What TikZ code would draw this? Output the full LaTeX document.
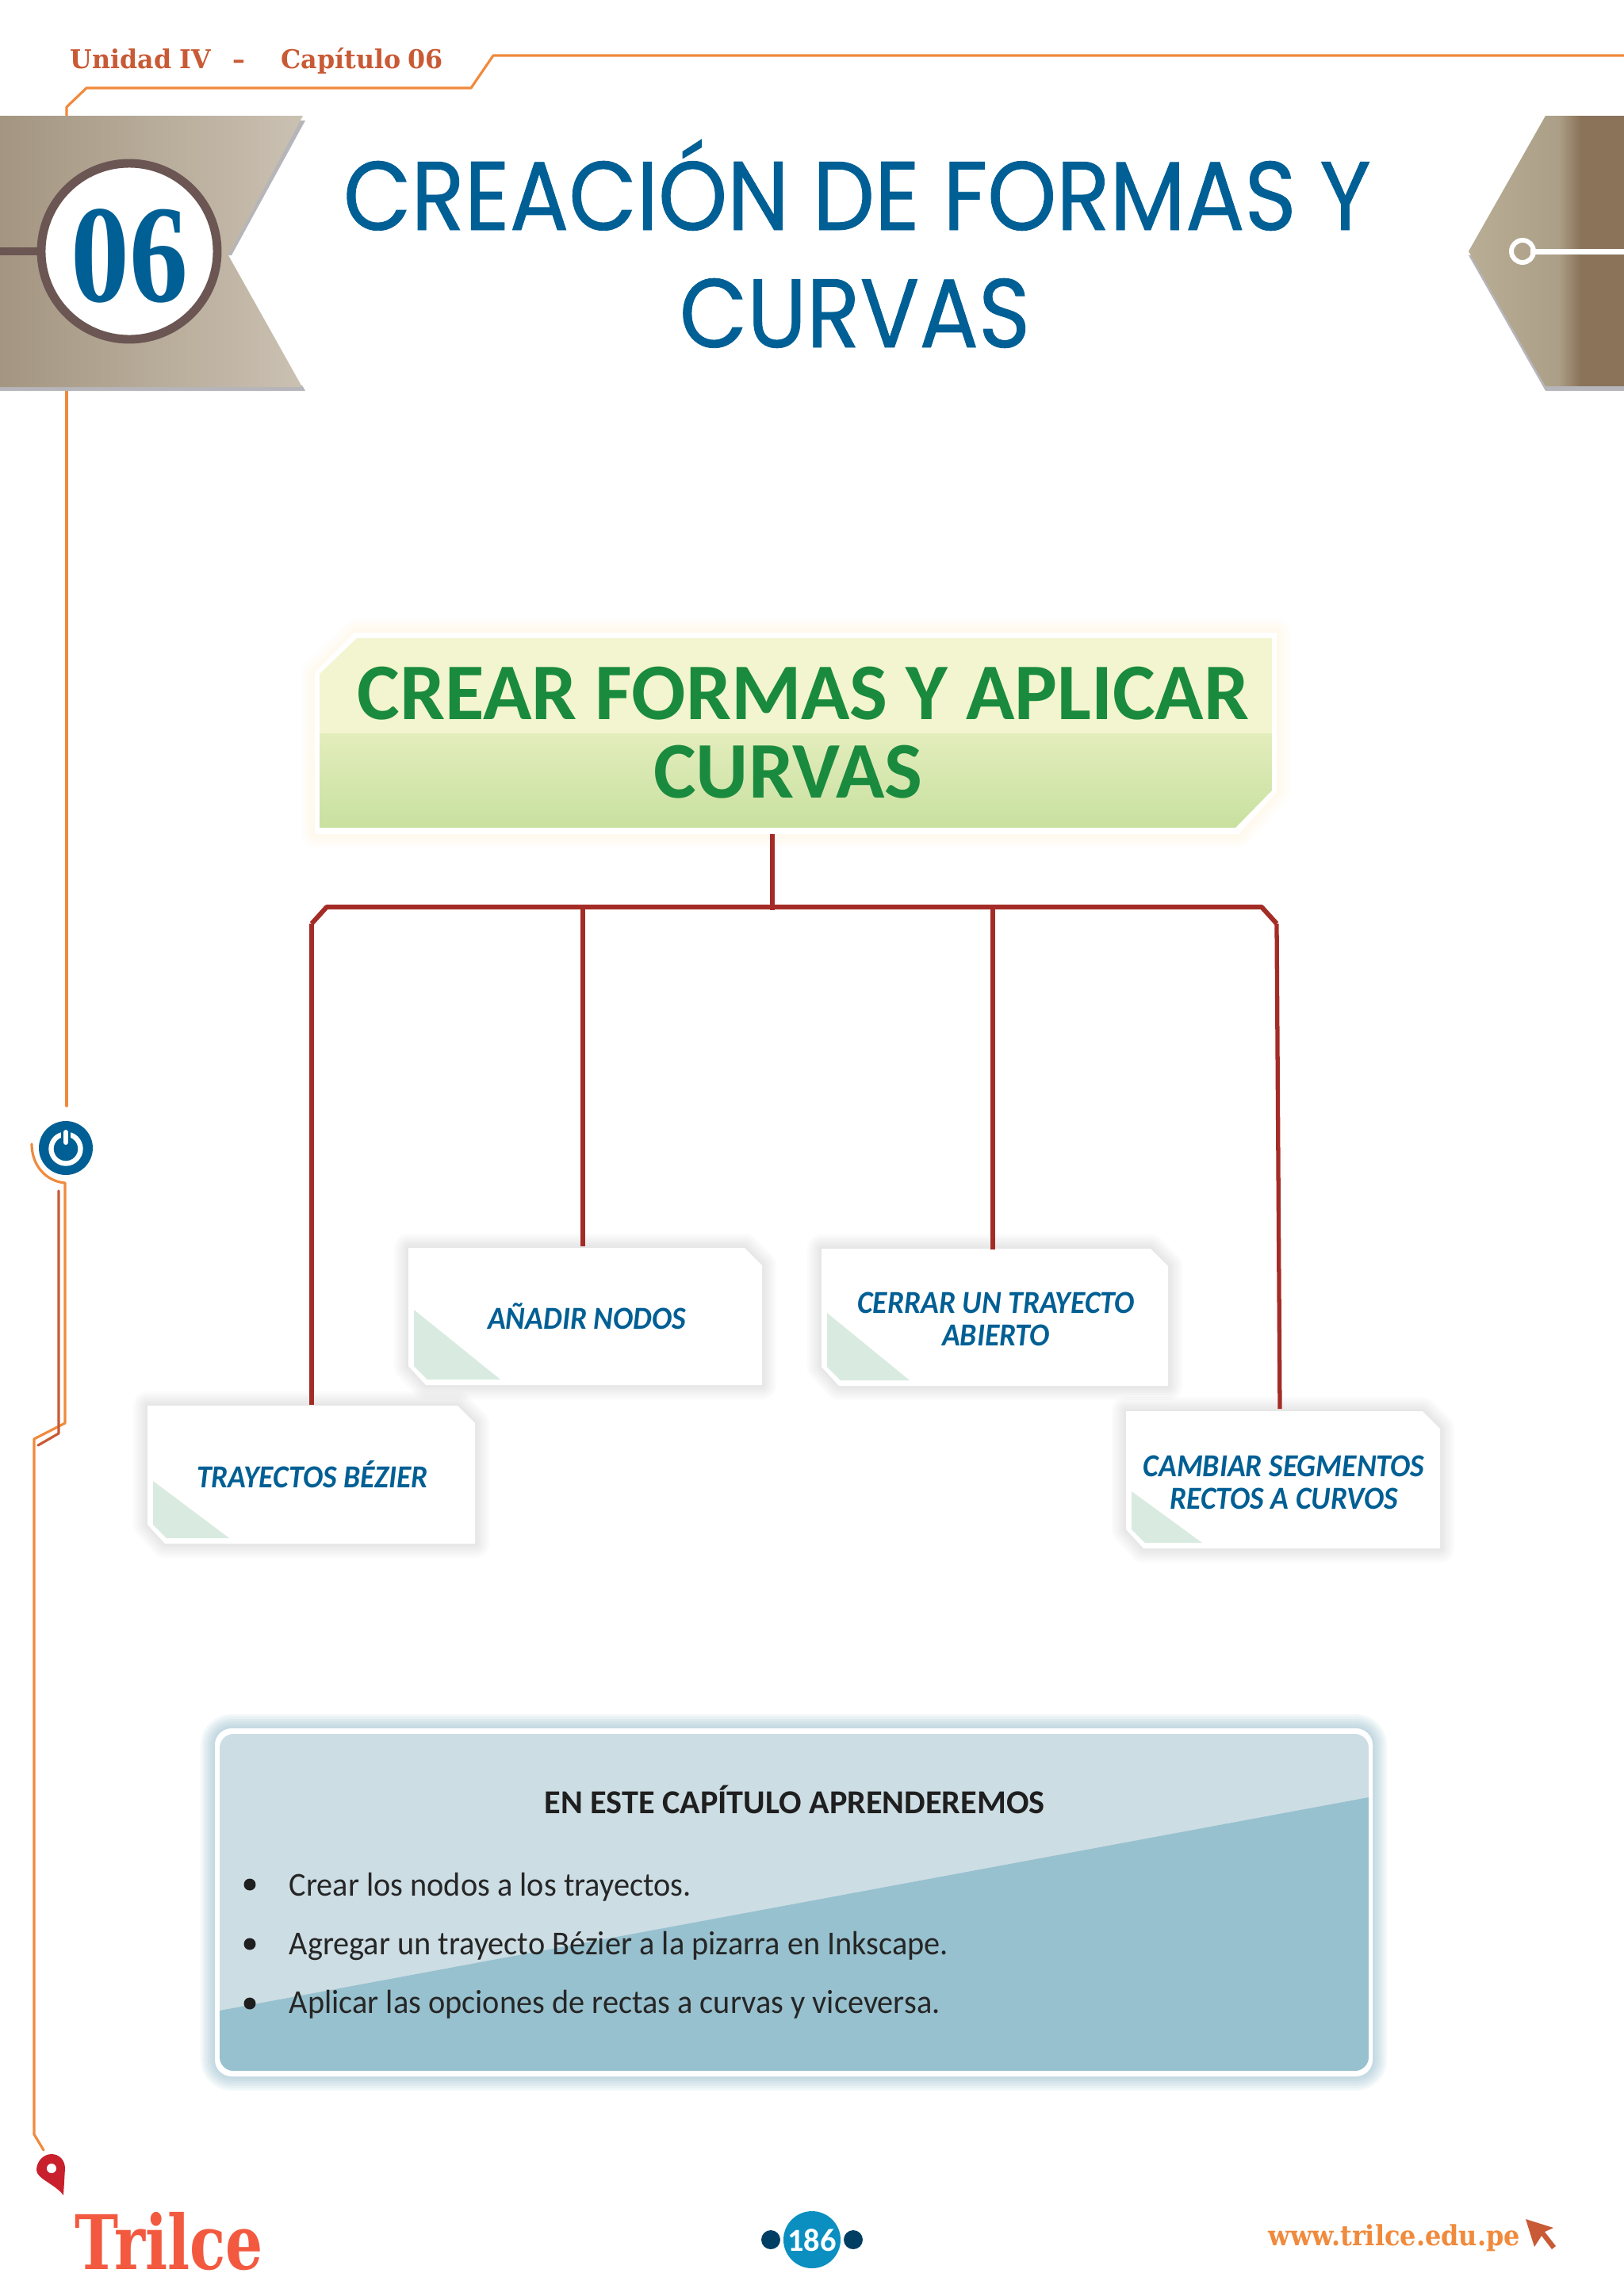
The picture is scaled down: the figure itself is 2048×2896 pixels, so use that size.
\documentclass[tikz,border=0pt]{standalone}
\usepackage{fontspec}
\usetikzlibrary{calc}
\setmainfont{Carlito}
\newfontfamily\titlefont[FakeStretch=0.9,FakeBold=0.7]{Poppins}
\newfontfamily\slabfont[FakeStretch=0.97]{DejaVu Serif}
\newfontfamily\webfont[FakeStretch=0.91]{DejaVu Serif}
\newfontfamily\logofont[FakeStretch=0.78]{DejaVu Serif}
\newfontfamily\numfont[FakeStretch=0.84]{Liberation Serif}
\newfontfamily\cardfont[FakeStretch=0.93]{Carlito}
\newfontfamily\bodyfont[FakeStretch=0.955]{Carlito}
\definecolor{linea}{HTML}{F08A3C}
\definecolor{lineados}{HTML}{C85A35}
\definecolor{azul}{HTML}{005F94}
\definecolor{rojo}{HTML}{A42C27}
\definecolor{verde}{HTML}{1A8A3E}
\definecolor{marron}{HTML}{6B5654}
\definecolor{cintaa}{HTML}{B8AD95}
\definecolor{cintab}{HTML}{AC9F87}
\definecolor{cintac}{HTML}{8A7359}
\definecolor{cintaizq}{HTML}{A39580}
\definecolor{cintafin}{HTML}{CBC1B2}
\definecolor{sombra}{HTML}{B5B5BA}
\definecolor{temaalto}{HTML}{F2F5CF}
\definecolor{temamed}{HTML}{E3EDBC}
\definecolor{temabajo}{HTML}{C8E0A0}
\definecolor{hoja}{HTML}{D9EBE0}
\definecolor{panelclaro}{HTML}{CDDDE4}
\definecolor{paneloscuro}{HTML}{97C1CF}
\definecolor{panelglow}{HTML}{5A97AE}
\definecolor{logorojo}{HTML}{F2593F}
\definecolor{pinrojo}{HTML}{C8202C}
\definecolor{pagazul}{HTML}{0A8FC0}
\definecolor{pagdot}{HTML}{003F63}
\pgfdeclarehorizontalshading{cintader}{100bp}{color(0bp)=(cintaa); color(25bp)=(cintaa); color(54bp)=(cintab); color(61bp)=(cintac); color(100bp)=(cintac)}
\def\softglow#1#2#3{\foreach \g in {6,12,18,24,30,36}{\draw[#1,opacity=#2,line width=\g*0.1mm,line join=round] #3;}}
\def\notecard(#1,#2,#3,#4)(#5,#6){
	\softglow{black}{0.014}{(#1,#2) -- ({#3-22},#2) -- (#3,{#2+22}) -- (#3,#4) -- ({#1+22},#4) -- (#1,{#4-24}) -- cycle}
	\fill[white] (#1,#2) -- ({#3-22},#2) -- (#3,{#2+22}) -- (#3,#4) -- ({#1+22},#4) -- (#1,{#4-24}) -- cycle;
	\fill[hoja] ({#1+7},{#2+#5}) -- ({#1+7},{#4-24}) -- ({#1+24},{#4-7}) -- ({#1+#6},{#4-7}) -- cycle;
}
\tikzset{
	titulo/.style={anchor=base,inner sep=0pt,text=azul,font=\titlefont\fontsize{35}{42}\selectfont},
	cabecera/.style={anchor=base west,inner sep=0pt,text=lineados,font=\slabfont\bfseries\fontsize{9.3}{11}\selectfont},
	tarjeta/.style={text=azul,minimum width=3.9cm,minimum height=1.74cm,align=center,font=\cardfont\bfseries\itshape\fontsize{11.5}{11.66}\selectfont},
	enlace/.style={draw=rojo,line width=1.5pt,line join=round},
	trazo/.style={draw=linea,line width=0.9pt,line cap=round,line join=round},
	trazodos/.style={draw=lineados,line width=0.9pt,line cap=round,line join=round},
	lista/.style={anchor=base west,inner sep=0pt,text=black!85,font=\bodyfont\fontsize{12}{14}\selectfont},
	tema/.style={anchor=base,inner sep=0pt,text=verde,font=\bfseries\fontsize{28.8}{29}\selectfont},
}
\begin{document}
\begin{tikzpicture}[x=0.01cm,y=-0.01cm]
			%%%%% START %%%%%
			\useasboundingbox (0,0) rectangle (2048,2896);
			
			\draw[trazo] (84,146) -- (84,135) -- (109,111) -- (594,111) -- (622,70) -- (2048,70);
			\draw[trazo] (84,493) -- (84,1395);
			\draw[trazo] (40,1443) .. controls (40,1470) and (58,1490) .. (82,1492) -- (82,1795) -- (43,1815) -- (43,2692) -- (55,2712);
			\draw[trazodos] (74,1502) -- (74,1808) -- (48,1823);
			
			\fill[sombra] (378,152) -- (385,152) -- (292,322) -- (286,322) -- cycle;
			\fill[sombra] (0,486) -- (381,486) -- (385,493) -- (0,493) -- cycle;
			\shade[left color=cintaizq,right color=cintafin] (0,146) -- (382,146) -- (288,322) -- (381,488) -- (0,488) -- cycle;
			\fill[marron] (0,312) rectangle (60,322);
			\draw[draw=marron,fill=white,line width=3.1pt] (163,317) circle (111);
			\node[anchor=base,inner sep=0pt,text=azul,font=\numfont\bfseries\fontsize{50}{50}\selectfont] (numero) at (163,380) {06};
			
			\fill[sombra] (1852,322) -- (1949,493) -- (2048,493) -- (2048,322) -- cycle;
			\shade[shading=cintader] (1949,146) -- (2048,146) -- (2048,487) -- (1949,487) -- (1852,317) -- cycle;
			\fill[white] (1930,313.5) rectangle (2048,320.5);
			\draw[white,line width=1.7pt] (1920,317) circle (14);
			
			\node[cabecera] (unidad) at (88,86) {Unidad\hspace{2.8pt}IV};
			\node[cabecera] (raya) at (293,86) {–};
			\node[cabecera] (capitulo) at (354,86) {Capítulo\hspace{2.4pt}06};
			\node[titulo] (titulouno) at (1081,290) {CREACIÓN DE FORMAS Y};
			\node[titulo] (titulodos) at (1078,438) {CURVAS};
			
			\softglow{orange!70!yellow}{0.012}{(450,798) -- (1610,798) -- (1610,997) -- (1562,1052) -- (397,1052) -- (397,850) -- cycle}
			\fill[white] (447,798) -- (1610,798) -- (1610,999) -- (1562,1052) -- (397,1052) -- (397,848) -- cycle;
			\fill[temaalto] (450,805) -- (1604,805) -- (1604,925) -- (403,925) -- (403,850) -- cycle;
			\shade[top color=temamed,bottom color=temabajo] (403,925) -- (1604,925) -- (1604,997) -- (1558,1044) -- (403,1044) -- cycle;
			\node[tema] (temauno) at (1013,907) {CREAR FORMAS Y APLICAR};
			\node[tema] (temados) at (994,1006) {CURVAS};
			
			\notecard(186,1773,599,1947)(95,103);
			\notecard(515,1574,961,1747)(78,116);
			\notecard(1036,1575,1473,1748)(81,111);
			\notecard(1420,1780,1816,1953)(101,96);
			\node[tarjeta] (bezier) at (394,1860) {TRAYECTOS BÉZIER};
			\node[tarjeta] (nodos) at (740,1660) {AÑADIR NODOS};
			\node[tarjeta] (cerrar) at (1256,1664) {CERRAR UN TRAYECTO\\ABIERTO};
			\node[tarjeta] (cambiar) at (1619,1870) {CAMBIAR SEGMENTOS\\RECTOS A CURVOS};
			
			\coordinate (tallo) at (974,1052);
			\coordinate (cruce) at (974,1148);
			\coordinate (barraizq) at (412,1144);
			\coordinate (codoizq) at (393,1165);
			\coordinate (barrader) at (1591,1144);
			\coordinate (cododer) at (1610,1165);
			\coordinate (ramauno) at (735,1144);
			\coordinate (ramados) at (1252,1144);
			\coordinate (finder) at (1614,1777);
			\draw[enlace] (tallo) -- (cruce);
			\draw[enlace,line width=1.7pt] (codoizq) -- (barraizq) -- (barrader) -- (cododer);
			\draw[enlace] (codoizq) -- (codoizq |- bezier.north);
			\draw[enlace] (ramauno) -- (ramauno |- nodos.north);
			\draw[enlace] (ramados) -- (ramados |- cerrar.north);
			\draw[enlace] (cododer) -- (finder);
			
			\softglow{panelglow}{0.07}{[rounded corners=6pt] (271,2180) rectangle (1731,2619)}
			\fill[white,rounded corners=6pt] (271,2180) rectangle (1731,2619);
			\begin{scope}
				\clip[rounded corners=5pt] (277,2187) rectangle (1726,2612);
				\fill[panelclaro] (277,2187) rectangle (1726,2612);
				\fill[paneloscuro] (277,2536) -- (1726,2267) -- (1726,2612) -- (277,2612) -- cycle;
			\end{scope}
			\node[anchor=base,text=black!88,font=\bfseries\fontsize{12}{14}\selectfont] (aprender) at (1002,2287) {EN ESTE CAPÍTULO APRENDEREMOS};
			\foreach \y/\b/\t in {2377/2391/Crear los nodos a los trayectos.,2452/2465/Agregar un trayecto Bézier a la pizarra en Inkscape.,2527/2539/Aplicar las opciones de rectas a curvas y viceversa.}{
				\fill[black!88] (315,\y) circle (7.5);
				\node[lista] (item\y) at (364,\b) {\t};
			}
			
			\fill[azul] (83,1448) circle (34);
			\draw[white,line width=1.8pt] (83,1449) circle (18.5);
			\draw[azul,line width=3.4pt] (83,1420) -- (83,1446);
			\draw[white,line width=1.7pt,line cap=round] (83,1428) -- (83,1441);
			
			\fill[pinrojo] (80,2769) -- (82,2735) .. controls (82,2724) and (74,2717) .. (65,2717) .. controls (54,2717) and (46,2727) .. (46,2737) .. controls (46,2748) and (70,2755) .. cycle;
			\fill[white] (65,2735) circle (6);
			
			\node[anchor=base west,inner sep=0pt,text=logorojo,font=\logofont\bfseries\fontsize{27}{27}\selectfont] (marca) at (94,2862) {Trilce};
			
			\fill[pagdot] (972,2825) circle (12);
			\fill[pagdot] (1076,2825) circle (12);
			\fill[pagazul] (1024,2825) circle (36);
			\node[text=white,font=\bfseries\fontsize{11.5}{14}\selectfont] (pagina) at (1024,2826) {186};
			
			\node[anchor=base west,inner sep=0pt,text=linea,font=\webfont\bfseries\fontsize{10}{12}\selectfont] (web) at (1599,2832) {www.trilce.edu.pe};
			\fill[lineados] (1924,2799) -- (1959,2810) -- (1948,2815) -- (1962,2833) -- (1957,2837) -- (1944,2820) -- (1935,2834) -- cycle;
			%%%%% END %%%%%
		\end{tikzpicture}
\end{document}
